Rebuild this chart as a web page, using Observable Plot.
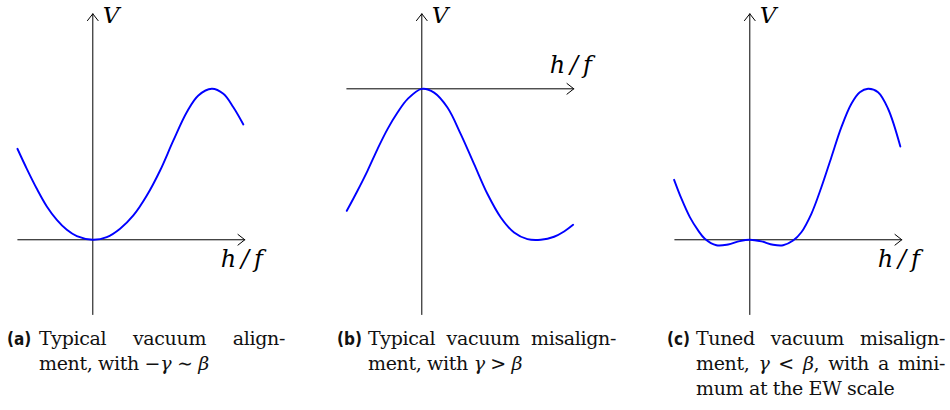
<!DOCTYPE html>
<html>
<head>
<meta charset="utf-8">
<script src="https://cdn.jsdelivr.net/npm/d3@7"></script>
<script src="https://cdn.jsdelivr.net/npm/@observablehq/plot@0.6"></script>
<style>
  html, body { margin: 0; padding: 0; background: #fff; overflow: hidden; }
  #fig { position: relative; width: 950px; height: 410px; overflow: hidden; }
  .panel { position: absolute; top: 0; }
  .panel text { font-family: "DejaVu Serif", serif; }
  .cap { position: absolute; top: 326px; font-family: "DejaVu Serif", serif; font-size: 19px; letter-spacing: -0.35px; line-height: 25px; color: #111; }
  .cap .lab { position: absolute; top: 1px; font-family: "DejaVu Sans", sans-serif; font-stretch: condensed; font-weight: bold; font-size: 17px; letter-spacing: 0; }
  .cap .body { position: absolute; top: 0; }
  .cap .ln { white-space: nowrap; }
  .cap .ln.just { text-align: justify; text-align-last: justify; white-space: normal; }
  .cap i { font-style: italic; }
</style>
</head>
<body>
<div id="fig"></div>
<script>
// Sampled potential V(h/f) for each of the three vacuum scenarios.
const hA = [-0.987, -0.864, -0.733, -0.602, -0.471, -0.340, -0.209, 0, 0.183, 0.357, 0.531, 0.707, 0.881, 1.055, 1.230, 1.382, 1.558, 1.709, 1.840, 1.971];
const vA = [0.603, 0.470, 0.338, 0.221, 0.132, 0.066, 0.024, 0, 0.017, 0.073, 0.161, 0.293, 0.459, 0.658, 0.845, 0.956, 1.0, 0.967, 0.878, 0.764];

const hB = [-0.982, -0.842, -0.711, -0.580, -0.449, -0.318, -0.187, 0, 0.161, 0.336, 0.510, 0.685, 0.860, 1.034, 1.208, 1.383, 1.558, 1.732, 1.863, 1.981];
const vB = [-0.808, -0.675, -0.543, -0.399, -0.267, -0.157, -0.068, 0, -0.025, -0.124, -0.300, -0.499, -0.697, -0.852, -0.952, -0.996, -1.0, -0.980, -0.945, -0.901];

const hC = [-0.991, -0.895, -0.785, -0.677, -0.589, -0.437, -0.284, -0.131, 0, 0.152, 0.305, 0.436, 0.567, 0.675, 0.806, 0.937, 1.068, 1.199, 1.330, 1.440, 1.548, 1.679, 1.810, 1.971];
const vC = [0.397, 0.272, 0.150, 0.062, 0.007, -0.036, -0.031, -0.009, 0, -0.011, -0.033, -0.036, -0.005, 0.050, 0.172, 0.348, 0.547, 0.746, 0.901, 0.977, 1.0, 0.977, 0.868, 0.618];

// Extent of the h/f axis and of the V axis (in data units) for each panel.
const hAxis = [-0.982, 1.99];
const vAxisUp = [-0.495, 1.497];    // panels (a) and (c): axis near the bottom
const vAxisDown = [-1.495, 0.497];  // panel (b): axis near the top

const axisLabels = { v: "V", h: "h\u2009/\u2009f" };

const panels = [
  { left: 0,   h: hA, v: vA, vAxis: vAxisUp,   hLabelBelow: true },
  { left: 329, h: hB, v: vB, vAxis: vAxisDown, hLabelBelow: false },
  { left: 657, h: hC, v: vC, vAxis: vAxisUp,   hLabelBelow: true }
];

// Caption text: label, justified lines, last line
const capLabels = ["(a)", "(b)", "(c)"];
const capLines = [
  ["Typical vacuum align-", "ment, with −<i>γ</i> ∼ <i>β</i>"],
  ["Typical vacuum misalign-", "ment, with <i>γ</i> &gt; <i>β</i>"],
  ["Tuned vacuum misalign-", "ment, <i>γ</i> &lt; <i>β</i>, with a mini-", "mum at the EW scale"]
];
const capBoxes = [
  { lab: 7,   left: 39,  right: 285 },
  { lab: 337, left: 368, right: 616 },
  { lab: 667, left: 696, right: 945 }
];

const fig = document.getElementById("fig");

panels.forEach((p) => {
  const curve = p.h.map((h, i) => ({ h, v: p.v[i] }));
  const axes = [
    { x1: hAxis[0], y1: 0, x2: hAxis[1], y2: 0 },
    { x1: 0, y1: p.vAxis[0], x2: 0, y2: p.vAxis[1] }
  ];
  const chart = Plot.plot({
    width: 290,
    height: 320,
    marginLeft: 17.3,
    marginRight: 45.7,
    marginTop: 13.3,
    marginBottom: 6,
    x: { domain: hAxis, axis: null },
    y: { domain: p.vAxis, axis: null },
    marks: [
      Plot.arrow(axes, { x1: "x1", y1: "y1", x2: "x2", y2: "y2", stroke: "#000", strokeWidth: 1, headLength: 13, headAngle: 76 }),
      Plot.line(curve, { x: "h", y: "v", stroke: "#0000ff", strokeWidth: 1.9, curve: "catmull-rom" }),
      Plot.text([{ x: 0, y: p.vAxis[1] }], { x: "x", y: "y", text: () => axisLabels.v, textAnchor: "start", dx: 10, dy: 1.5, fontSize: 23, fontStyle: "italic", fill: "#000" }),
      Plot.text([{ x: hAxis[1], y: 0 }], { x: "x", y: "y", text: () => axisLabels.h, textAnchor: "middle", dx: -3, dy: p.hLabelBelow ? 20 : -24, fontSize: 24, fontStyle: "italic", fill: "#000" })
    ]
  });
  chart.classList.add("panel");
  chart.style.left = p.left + "px";
  chart.style.position = "absolute";
  fig.appendChild(chart);
});

capLines.forEach((lines, k) => {
  const b = capBoxes[k];
  const cap = document.createElement("div");
  cap.className = "cap";
  cap.style.left = "0px";
  cap.style.width = "950px";
  const lab = document.createElement("div");
  lab.className = "lab";
  lab.style.left = b.lab + "px";
  lab.textContent = capLabels[k];
  cap.appendChild(lab);
  const body = document.createElement("div");
  body.className = "body";
  body.style.left = b.left + "px";
  body.style.width = (b.right - b.left) + "px";
  lines.forEach((t, i) => {
    const ln = document.createElement("div");
    ln.className = "ln" + (i < lines.length - 1 ? " just" : "");
    ln.innerHTML = t;
    body.appendChild(ln);
  });
  cap.appendChild(body);
  fig.appendChild(cap);
});
</script>
</body>
</html>
